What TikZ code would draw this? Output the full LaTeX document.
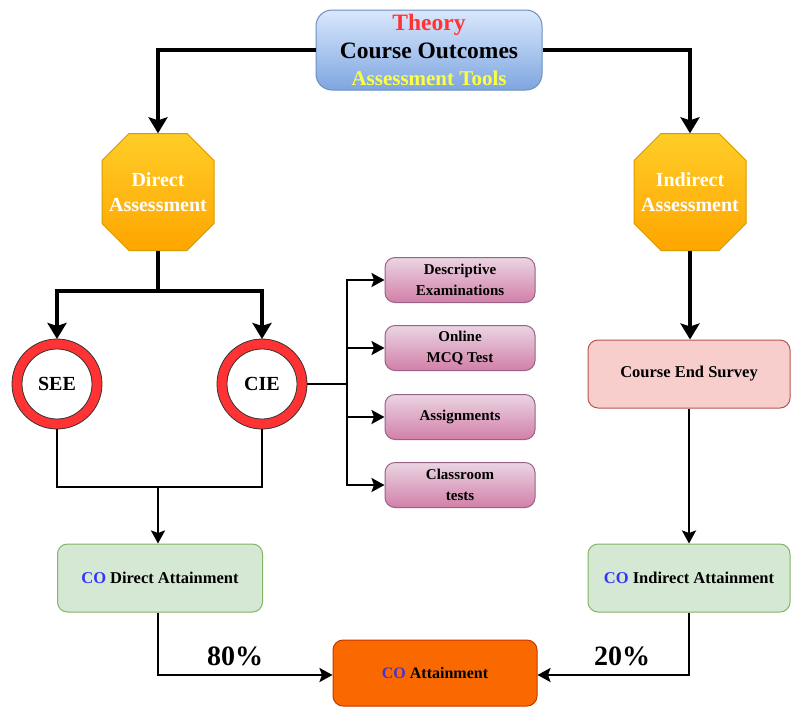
\documentclass[tikz,border=0pt]{standalone}
\usepackage{fontspec}
\setmainfont{Liberation Serif}
\usetikzlibrary{arrows.meta}
\definecolor{topA}{HTML}{DAE8FC}
\definecolor{topB}{HTML}{7EA6E0}
\definecolor{topLine}{HTML}{6C8EBF}
\definecolor{octA}{HTML}{FFCD28}
\definecolor{octB}{HTML}{FFA500}
\definecolor{octLine}{HTML}{D79B00}
\definecolor{pinkA}{HTML}{EAD5E3}
\definecolor{pinkB}{HTML}{D27FA8}
\definecolor{pinkLine}{HTML}{996185}
\definecolor{surveyFill}{HTML}{F8CECC}
\definecolor{surveyLine}{HTML}{B85450}
\definecolor{greenFill}{HTML}{D5E8D4}
\definecolor{greenLine}{HTML}{82B366}
\definecolor{orangeFill}{HTML}{FA6800}
\definecolor{orangeLine}{HTML}{C73500}
\definecolor{ringRed}{HTML}{FF3333}
\definecolor{titleRed}{HTML}{FF3333}
\definecolor{titleYellow}{HTML}{FFFF40}
\definecolor{coBlue}{HTML}{3333FF}
\definecolor{coBlueDark}{HTML}{4433CC}
\begin{document}
\begin{tikzpicture}[x=1pt,y=-1pt,
  txt/.style={font=\bfseries, align=center, text=black},
  roundbox/.style={txt, rectangle, rounded corners=10pt, line width=1pt, inner sep=0pt},
  octlabel/.style={txt, text=white, font=\bfseries\fontsize{20}{25}\selectfont,
    minimum width=112pt, minimum height=117pt, inner sep=0pt},
  octshape/.style={top color=octA, bottom color=octB, draw=octLine, line width=1pt},
  ring/.style={txt, circle, minimum size=80pt, inner sep=0pt, line width=10pt,
    draw=ringRed, fill=white, font=\bfseries\fontsize{20}{24}\selectfont},
  ringedge/.style={draw=black!80, line width=0.8pt},
  pinkbox/.style={roundbox, top color=pinkA, bottom color=pinkB, draw=pinkLine,
    minimum width=150pt, minimum height=45pt, font=\bfseries\fontsize{15}{21}\selectfont},
  heavy/.style={line width=4.5pt, -{Stealth[length=16pt,width=19pt,inset=3pt]}},
  heavyplain/.style={line width=4.5pt},
  mid/.style={line width=2.5pt, -{Stealth[length=13pt,width=14pt,inset=2.5pt]}},
  midplain/.style={line width=2.5pt},
  pct/.style={txt, font=\bfseries\fontsize{28}{30}\selectfont}
]
\useasboundingbox (0,0) rectangle (791,707);

% course outcomes header
\node[roundbox, rounded corners=16pt, top color=topA, bottom color=topB, draw=topLine,
  minimum width=226pt, minimum height=80pt, font=\bfseries\fontsize{23.5}{27.5}\selectfont] (top) at (429,50)
  {\textcolor{titleRed}{Theory}\\
   Course Outcomes\\
   \textcolor{titleYellow}{\fontsize{21}{27.5}\selectfont Assessment Tools}};

% octagons
\path[octshape] (158,192) ++(-29,-58.5) -- ++(58,0) -- ++(27,27) -- ++(0,63)
  -- ++(-27,27) -- ++(-58,0) -- ++(-27,-27) -- ++(0,-63) -- cycle;
\node[octlabel] (direct) at (158,192) {Direct\\Assessment};
\path[octshape] (690,192) ++(-29,-58.5) -- ++(58,0) -- ++(27,27) -- ++(0,63)
  -- ++(-27,27) -- ++(-58,0) -- ++(-27,-27) -- ++(0,-63) -- cycle;
\node[octlabel] (indirect) at (690,192) {Indirect\\Assessment};

% SEE / CIE rings
\node[ring] (see) at (57,384) {SEE};
\node[ring] (cie) at (262,384) {CIE};
\draw[ringedge] (see.center) circle (45pt) (see.center) circle (35pt);
\draw[ringedge] (cie.center) circle (45pt) (cie.center) circle (35pt);

% CIE components
\node[pinkbox] (desc) at (460,280) {Descriptive\\Examinations};
\node[pinkbox] (mcq) at (460,348) {Online\\MCQ Test};
\node[pinkbox] (assign) at (460,417) {Assignments};
\node[pinkbox] (class) at (460,485) {Classroom\\tests};

% survey and attainment boxes
\node[roundbox, fill=surveyFill, draw=surveyLine, minimum width=202pt, minimum height=68pt,
  font=\bfseries\fontsize{16.5}{20}\selectfont] (survey) at (689,374) {Course End Survey};
\node[roundbox, fill=greenFill, draw=greenLine, minimum width=205pt, minimum height=68pt,
  font=\bfseries\fontsize{16.5}{20}\selectfont] (codirect) at (160,578)
  {\textcolor{coBlue}{CO} Direct Attainment};
\node[roundbox, fill=greenFill, draw=greenLine, minimum width=202pt, minimum height=68pt,
  font=\bfseries\fontsize{16.5}{20}\selectfont] (coindirect) at (689,578)
  {\textcolor{coBlue}{CO} Indirect Attainment};
\node[roundbox, fill=orangeFill, draw=orangeLine, minimum width=204pt, minimum height=66pt,
  font=\bfseries\fontsize{16}{20}\selectfont] (coatt) at (435,673)
  {\textcolor{coBlueDark}{CO} Attainment};

% junction points
\coordinate (split) at (158,291);
\coordinate (merge) at (158,487);
\coordinate (fan) at (347,384);
\coordinate (leftdrop) at (158,675);
\coordinate (rightdrop) at (689,675);

% connectors
\draw[heavy] (top.west) -| (direct.north);
\draw[heavy] (top.east) -| (indirect.north);
\draw[heavyplain] (direct.south) -- (split);
\draw[heavy] (split) -| (see.north);
\draw[heavy] (split) -| (cie.north);
\draw[heavy] (indirect.south) -- (indirect.south |- survey.north);

\draw[midplain] (see.south) -- (see.south |- merge) -- (cie.south |- merge) -- (cie.south);
\draw[mid] (merge) -- (merge |- codirect.north);

\draw[midplain] (cie.east) -- (fan);
\draw[mid] (fan) |- (desc.west);
\draw[mid] (fan) |- (mcq.west);
\draw[mid] (fan) |- (assign.west);
\draw[mid] (fan) |- (class.west);

\draw[mid] (survey.south) -- (coindirect.north);
\draw[mid] (codirect.south -| leftdrop) -- (leftdrop) -- (coatt.west |- leftdrop);
\draw[mid] (coindirect.south) -- (rightdrop) -- (coatt.east |- rightdrop);

% weights
\node[pct] (w80) at (235,656) {80\%};
\node[pct] (w20) at (622,656) {20\%};
\end{tikzpicture}
\end{document}
